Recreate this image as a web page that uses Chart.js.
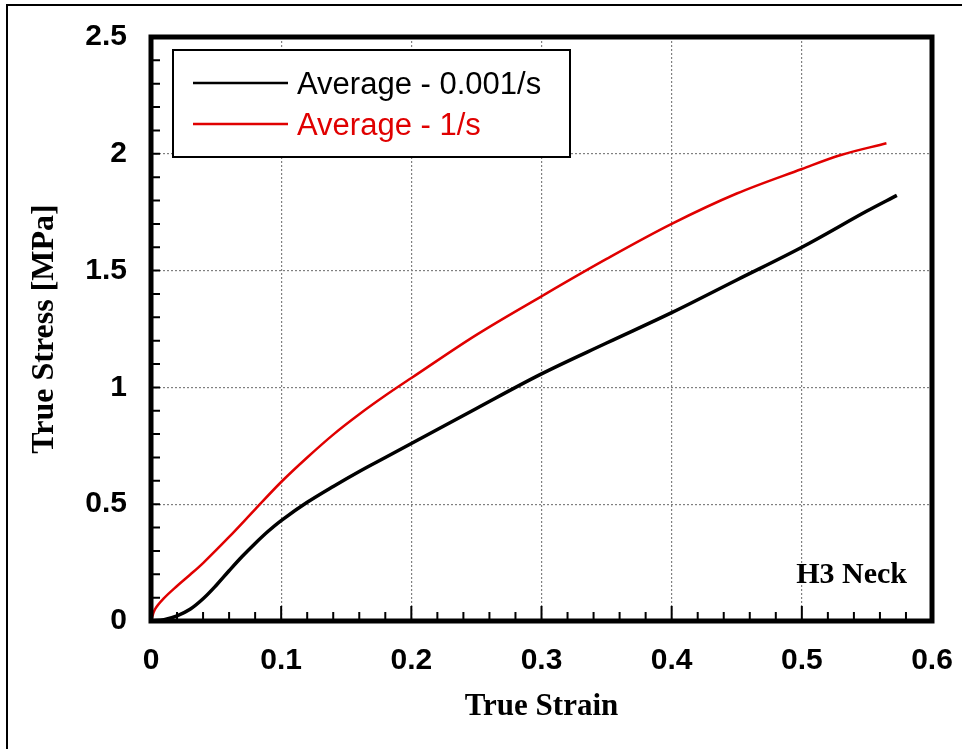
<!DOCTYPE html>
<html>
<head>
<meta charset="utf-8">
<title>True Stress vs True Strain</title>
<script src="https://cdn.jsdelivr.net/npm/chart.js@4.4.1/dist/chart.umd.min.js"></script>
<style>
    html, body { margin: 0; padding: 0; background: #fff; }
    #wrap { position: relative; width: 962px; height: 749px; }
</style>
</head>
<body>
<div id="wrap"><canvas id="stressChart" width="962" height="749"></canvas></div>
<script>
    // 应变 / 应力数据
    const slowStrain = [0, 0.01, 0.02, 0.03, 0.04, 0.05, 0.06, 0.07, 0.08, 0.09, 0.1, 0.12, 0.14, 0.16, 0.18, 0.2, 0.25, 0.3, 0.35, 0.4, 0.45, 0.5, 0.55, 0.573];
    const slowStress = [0, 0.006, 0.022, 0.05, 0.095, 0.152, 0.215, 0.276, 0.332, 0.384, 0.43, 0.508, 0.576, 0.64, 0.7, 0.76, 0.91, 1.058, 1.19, 1.32, 1.46, 1.6, 1.755, 1.822];
    const fastStrain = [0, 0.003, 0.01, 0.02, 0.03, 0.04, 0.06, 0.08, 0.1, 0.12, 0.14, 0.16, 0.18, 0.2, 0.25, 0.3, 0.35, 0.4, 0.45, 0.5, 0.53, 0.565];
    const fastStress = [0, 0.05, 0.098, 0.15, 0.198, 0.248, 0.36, 0.478, 0.595, 0.7, 0.798, 0.885, 0.965, 1.04, 1.225, 1.39, 1.55, 1.7, 1.83, 1.935, 1.995, 2.045];
    const seriesLabels = ['Average - 0.001/s', 'Average - 1/s'];
    const seriesColors = ['#000000', '#e00000'];
    const xTicks = [0, 0.1, 0.2, 0.3, 0.4, 0.5, 0.6];
    const yTicks = [0, 0.5, 1, 1.5, 2, 2.5];
    const noteText = 'H3 Neck';

    const SANS = '"Liberation Sans", Arial, sans-serif';
    const SERIF = '"Liberation Serif", "Times New Roman", serif';

    function toPoints(xs, ys) {
        return xs.map((x, i) => ({ x: x, y: ys[i] }));
    }

    // 坐标框 + 内向刻度 + 图例 + 外框线
    const framePlugin = {
        id: 'frame',
        afterDraw(chart) {
            const ctx = chart.ctx;
            const a = chart.chartArea;
            const xs = chart.scales.x;
            const ys = chart.scales.y;
            ctx.save();

            // 页面左/上细边框
            ctx.strokeStyle = '#000';
            ctx.lineWidth = 2;
            ctx.beginPath();
            ctx.moveTo(7, 749);
            ctx.lineTo(7, 5);
            ctx.lineTo(962, 5);
            ctx.stroke();

            // 次刻度
            ctx.lineWidth = 2;
            ctx.beginPath();
            for (let i = 1; i < 30; i++) {
                const px = xs.getPixelForValue(i * 0.02);
                const len = (i % 5 === 0) ? 15 : 9;
                ctx.moveTo(px, a.bottom);
                ctx.lineTo(px, a.bottom - len);
            }
            for (let i = 1; i < 25; i++) {
                const py = ys.getPixelForValue(i * 0.1);
                ctx.moveTo(a.left, py);
                ctx.lineTo(a.left + 9, py);
            }
            ctx.stroke();

            // 粗边框
            ctx.lineWidth = 5;
            ctx.strokeRect(a.left, a.top, a.right - a.left, a.bottom - a.top);

            // 图例
            const lx = 173, ly = 50, lw = 397, lh = 107;
            ctx.fillStyle = '#fff';
            ctx.fillRect(lx, ly, lw, lh);
            ctx.lineWidth = 2;
            ctx.strokeStyle = '#000';
            ctx.strokeRect(lx, ly, lw, lh);
            ctx.font = '31px ' + SANS;
            ctx.textBaseline = 'middle';
            ctx.textAlign = 'left';
            chart.data.datasets.forEach((ds, i) => {
                const yy = 83 + i * 41;
                ctx.strokeStyle = ds.borderColor;
                ctx.lineWidth = 2.5;
                ctx.beginPath();
                ctx.moveTo(193, yy);
                ctx.lineTo(288, yy);
                ctx.stroke();
                ctx.fillStyle = ds.borderColor;
                ctx.fillText(ds.label, 297, yy + 2);
            });

            // 样品标注
            ctx.fillStyle = '#000';
            ctx.font = 'bold 30px ' + SERIF;
            ctx.textAlign = 'right';
            ctx.fillText(noteText, 907, 575);
            ctx.restore();
        }
    };

    const ctx = document.getElementById('stressChart').getContext('2d');
    new Chart(ctx, {
        type: 'scatter',
        data: {
            datasets: [
                { label: seriesLabels[0], data: toPoints(slowStrain, slowStress), borderColor: seriesColors[0], borderWidth: 3.5 },
                { label: seriesLabels[1], data: toPoints(fastStrain, fastStress), borderColor: seriesColors[1], borderWidth: 2.5 }
            ].map(d => Object.assign(d, { showLine: true, pointRadius: 0, tension: 0.35, fill: false }))
        },
        options: {
            responsive: false,
            devicePixelRatio: 1,
            animation: false,
            layout: { padding: { top: 37, right: 30, left: 0, bottom: 0 } },
            plugins: { legend: { display: false }, tooltip: { enabled: false } },
            scales: {
                x: {
                    type: 'linear', min: 0, max: 0.6,
                    afterBuildTicks: s => { s.ticks = xTicks.map(v => ({ value: v })); },
                    afterFit: s => { s.height = 128; s.paddingLeft = 0; s.paddingRight = 0; },
                    ticks: { color: '#000', padding: 22, font: { family: SANS, size: 30, weight: 'bold' }, callback: v => String(v) },
                    grid: { color: '#808080', lineWidth: 1.2, drawTicks: false },
                    border: { display: false, dash: [2, 2] },
                    title: { display: true, text: 'True Strain', color: '#000', padding: { top: 0, bottom: 23 }, font: { family: SERIF, size: 31, weight: 'bold' } }
                },
                y: {
                    type: 'linear', min: 0, max: 2.5,
                    afterBuildTicks: s => { s.ticks = yTicks.map(v => ({ value: v })); },
                    afterFit: s => { s.width = 151; s.paddingTop = 0; s.paddingBottom = 0; },
                    ticks: { color: '#000', padding: 24, font: { family: SANS, size: 30, weight: 'bold' }, callback: v => String(v) },
                    grid: { color: '#808080', lineWidth: 1.2, drawTicks: false },
                    border: { display: false, dash: [2, 2] },
                    title: { display: true, text: 'True Stress [MPa]', color: '#000', padding: { top: 26, bottom: 0 }, font: { family: SERIF, size: 32, weight: 'bold' } }
                }
            }
        },
        plugins: [framePlugin]
    });
</script>
</body>
</html>
